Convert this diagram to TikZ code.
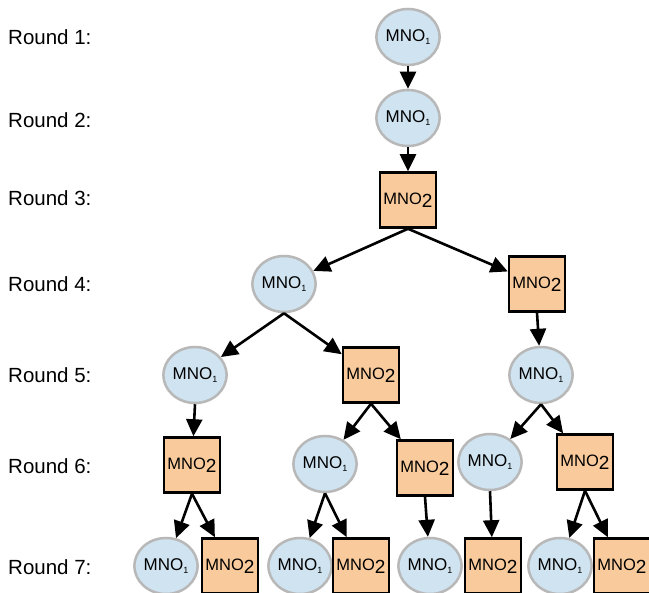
\documentclass[tikz,border=0pt]{standalone}
\usepackage{fontspec}
\setmainfont{Liberation Sans}
\usetikzlibrary{arrows.meta,shapes.geometric}
\definecolor{cfill}{HTML}{CFE3F1}
\definecolor{cline}{HTML}{B8B8B8}
\definecolor{sfill}{HTML}{F9CA9B}
\tikzset{
  mone/.style={ellipse,draw=cline,line width=2.5pt,fill=cfill,minimum width=62pt,minimum height=56pt,inner sep=0pt,font=\fontsize{17}{17}\selectfont},
  mtwo/.style={rectangle,draw=black,line width=2.5pt,fill=sfill,minimum width=56pt,minimum height=55pt,inner sep=0pt,font=\fontsize{16.5}{16.5}\selectfont},
  rlab/.style={anchor=west,inner sep=0pt,font=\fontsize{20.5}{20.5}\selectfont},
  edge/.style={line width=2.6pt,-{Triangle[length=17pt,width=16pt]}}
}
\newcommand{\mone}{MNO\raisebox{-3pt}{\fontsize{9}{9}\selectfont 1}}
\newcommand{\mtwo}{MNO\raisebox{-3.5pt}{\fontsize{19}{19}\selectfont 2}}
\begin{document}
\begin{tikzpicture}[x=1pt,y=-1pt]
\useasboundingbox[fill=white] (0,0) rectangle (649,593);
% labels
\node[rlab] (l1) at (8,37) {Round 1:};
\node[rlab] (l2) at (8,120) {Round 2:};
\node[rlab] (l3) at (8,198) {Round 3:};
\node[rlab] (l4) at (8,284) {Round 4:};
\node[rlab] (l5) at (8,375) {Round 5:};
\node[rlab] (l6) at (8,466) {Round 6:};
\node[rlab] (l7) at (8,567) {Round 7:};
% nodes
\node[mone] (a) at (408,37) {\mone};
\node[mone] (b) at (408,118) {\mone};
\node[mtwo] (c) at (408,200) {\mtwo};
\node[mone] (d1) at (284,284) {\mone};
\node[mtwo] (d2) at (537,284) {\mtwo};
\node[mone] (e1) at (195,375) {\mone};
\node[mtwo] (e2) at (371,375) {\mtwo};
\node[mone] (e3) at (541,375) {\mone};
\node[mtwo] (f1) at (192,465) {\mtwo};
\node[mone] (f2) at (325,464) {\mone};
\node[mtwo] (f3) at (425,468) {\mtwo};
\node[mone] (f4) at (490,462) {\mone};
\node[mtwo] (f5) at (585,462) {\mtwo};
\node[mone] (g1) at (166,566) {\mone};
\node[mtwo] (g2) at (230,566) {\mtwo};
\node[mone] (g3) at (300,566) {\mone};
\node[mtwo] (g4) at (361,566) {\mtwo};
\node[mone] (g5) at (430,566) {\mone};
\node[mtwo] (g6) at (493,566) {\mtwo};
\node[mone] (g7) at (560,566) {\mone};
\node[mtwo] (g8) at (622,566) {\mtwo};
% edges
\draw[edge] (a.south) -- (b);
\draw[edge] (b.south) -- (c);
\draw[edge] (c.south) -- (d1);
\draw[edge] (c.south) -- (d2);
\draw[edge] (d1.south) -- (e1);
\draw[edge] (d1.south) -- (e2);
\draw[edge] (d2.south) -- (e3);
\draw[edge] (e1.south) -- (f1);
\draw[edge] (e2.south) -- (f2);
\draw[edge] (e2.south) -- (f3);
\draw[edge] (e3.south) -- (f4);
\draw[edge] (e3.south) -- (f5);
\draw[edge] (f1.south) -- (g1);
\draw[edge] (f1.south) -- (g2);
\draw[edge] (f2.south) -- (g3);
\draw[edge] (f2.south) -- (g4);
\draw[edge] (f3.south) -- (g5);
\draw[edge] (f4.south) -- (g6);
\draw[edge] (f5.south) -- (g7);
\draw[edge] (f5.south) -- (g8);
\end{tikzpicture}
\end{document}
